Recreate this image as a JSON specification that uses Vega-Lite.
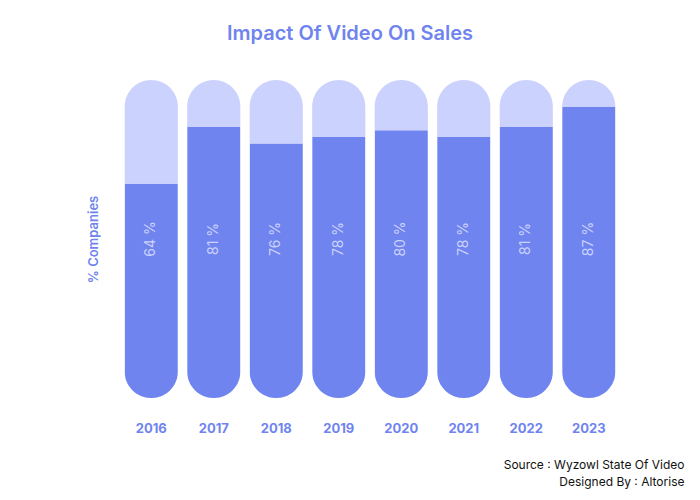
{
  "$schema": "https://vega.github.io/schema/vega-lite/v6.json",
  "autosize": "none",
  "width": 500,
  "height": 318,
  "padding": {"left": 120, "top": 80, "right": 80, "bottom": 102},
  "background": "white",
  "config": {"view": {"stroke": null}, "font": "Inter"},
  "title": {"text": "Impact Of Video On Sales", "fontSize": 20, "fontWeight": 600, "color": "#6F84EE", "offset": 36, "dx": -20, "font": "Inter"},
  "data": {"values": [
    {"year": "2016", "pct": 64, "label": "64 %"},
    {"year": "2017", "pct": 81, "label": "81 %"},
    {"year": "2018", "pct": 76, "label": "76 %"},
    {"year": "2019", "pct": 78, "label": "78 %"},
    {"year": "2020", "pct": 80, "label": "80 %"},
    {"year": "2021", "pct": 78, "label": "78 %"},
    {"year": "2022", "pct": 81, "label": "81 %"},
    {"year": "2023", "pct": 87, "label": "87 %"}
  ]},
  "encoding": {
    "x": {"field": "year", "type": "nominal", "scale": {"paddingInner": 0.15, "paddingOuter": 0.075},
      "axis": {"title": ["Source : Wyzowl State Of Video", "Designed By : Altorise"], "titleAnchor": "end", "titleAlign": "right", "titleX": 564, "titleY": 61, "titleFontSize": 12, "titleFontWeight": "normal", "titleColor": "#111111", "titleLineHeight": 17, "labelAngle": 0, "labelColor": "#6F84EE", "labelFontSize": 13, "labelFontWeight": "bold", "labelPadding": 24, "domain": false, "ticks": false}}
  },
  "layer": [
    {"mark": {"type": "bar", "color": "#CBD2FD", "cornerRadius": 26.5},
     "encoding": {"y": {"datum": 95, "type": "quantitative", "scale": {"domain": [0, 95], "nice": false},
       "axis": {"title": "% Companies", "titleColor": "#6F84EE", "titleFontSize": 13, "titleFontWeight": 600, "titlePadding": 20, "labels": false, "ticks": false, "domain": false, "grid": false}}}},
    {"mark": {"type": "bar", "color": "#6F84EE", "cornerRadiusBottomLeft": 26.5, "cornerRadiusBottomRight": 26.5},
     "encoding": {"y": {"field": "pct", "type": "quantitative"}}},
    {"mark": {"type": "text", "angle": 270, "align": "center", "baseline": "middle", "color": "#CBD2FD", "fontSize": 14},
     "encoding": {"y": {"datum": 47.5, "type": "quantitative"}, "text": {"field": "label"}}}
  ]
}
